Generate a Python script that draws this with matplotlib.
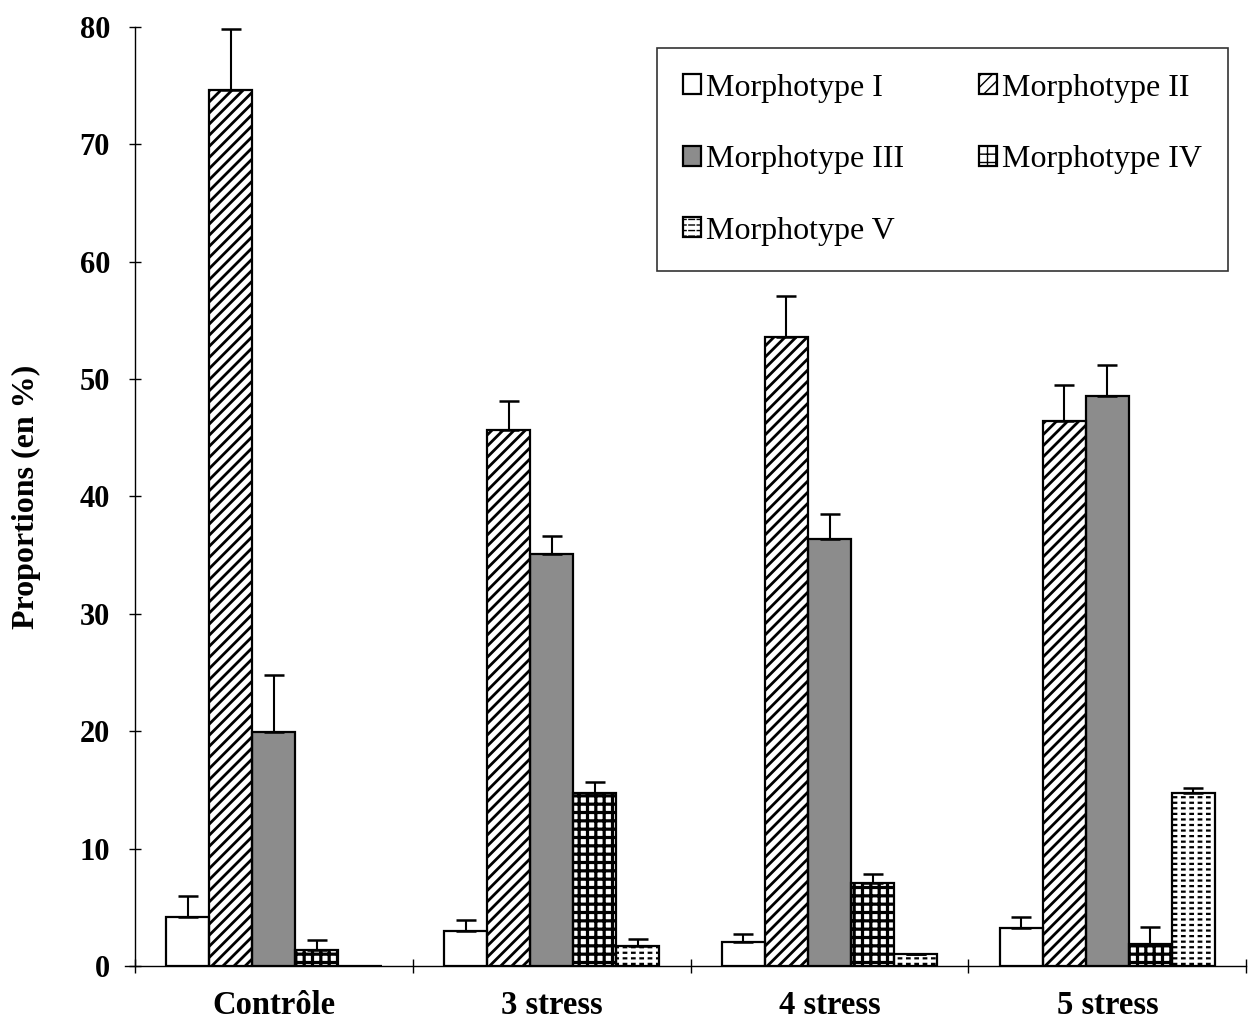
import matplotlib
matplotlib.use("Agg")
import matplotlib.pyplot as plt
import numpy as np

categories = ["Contrôle", "3 stress", "4 stress", "5 stress"]
series_names = ["Morphotype I", "Morphotype II", "Morphotype III", "Morphotype IV", "Morphotype V"]
morph_I = [4.2, 3.0, 2.0, 3.2]
morph_II = [74.6, 45.7, 53.6, 46.4]
morph_III = [19.9, 35.1, 36.4, 48.6]
morph_IV = [1.4, 14.7, 7.1, 1.9]
morph_V = [0.0, 1.7, 1.0, 14.7]
err_I = [1.8, 0.9, 0.7, 1.0]
err_II = [5.2, 2.4, 3.5, 3.1]
err_III = [4.9, 1.5, 2.1, 2.6]
err_IV = [0.8, 1.0, 0.7, 1.4]
err_V = [0.0, 0.6, 0.0, 0.5]
y_ticks = [0, 10, 20, 30, 40, 50, 60, 70, 80]

values = [morph_I, morph_II, morph_III, morph_IV, morph_V]
errors = [err_I, err_II, err_III, err_IV, err_V]

# layers per series: (facecolor, hatch, hatch colour, hatch linewidth)
layers = [
    [("white", None, "black", 1.0)],
    [("white", "///", "black", 2.0)],
    [("#8c8c8c", None, "black", 1.0)],
    [("white", "++", "black", 2.3)],
    [("white", "---", "black", 1.6), ("none", "||", "white", 2.6)],
]

plt.rcParams["font.family"] = ["Liberation Serif", "DejaVu Serif"]

fig = plt.figure(figsize=(12.5, 10.21), dpi=100)
ax = fig.add_axes([0.108, 0.0539, 0.889, 0.9197])

x = np.arange(len(categories))
bw = 0.155
offsets = (np.arange(5) - 2) * bw

handles = []
for i in range(5):
    parts = []
    for fc, hatch, hc, hlw in layers[i]:
        with plt.rc_context({"hatch.linewidth": hlw}):
            b = ax.bar(x + offsets[i], values[i], width=bw, facecolor=fc,
                       edgecolor=hc, linewidth=0, hatch=hatch, zorder=2)
        parts.append(b.patches[0])
    outline = ax.bar(x + offsets[i], values[i], width=bw, fill=False,
                     edgecolor="black", linewidth=1.6, zorder=2.5)
    parts.append(outline.patches[0])
    handles.append(tuple(parts))
    yerr = np.array([np.zeros(len(errors[i])), errors[i]])
    ax.errorbar(x + offsets[i], values[i], yerr=yerr, fmt="none", ecolor="black",
                elinewidth=1.5, capsize=7, capthick=1.8, zorder=3)

ax.set_xlim(-0.5, 3.5)
ax.set_ylim(0, 80)
ax.set_yticks(y_ticks)
ax.set_yticklabels([str(t) for t in y_ticks], fontsize=22, fontweight="bold")
ax.set_xticks(np.arange(-0.5, 4.0, 1.0))
ax.set_xticklabels([])
ax.set_xticks(x, minor=True)
ax.set_xticklabels(categories, minor=True, fontsize=23.5, fontweight="bold")
ax.tick_params(axis="x", which="major", direction="inout", length=10, width=1)
ax.tick_params(axis="x", which="minor", length=0, pad=17)
ax.tick_params(axis="y", direction="inout", length=8, width=1, pad=14)

for s in ["top", "right"]:
    ax.spines[s].set_visible(False)
for s in ["left", "bottom"]:
    ax.spines[s].set_linewidth(1.0)
ax.spines["bottom"].set_bounds(-0.536, 3.5)

ax.set_ylabel("Proportions (en %)", fontsize=23, fontweight="bold")
ax.yaxis.set_label_coords(-0.085, 0.5)

# row-major order in a 2-column legend
order = [0, 2, 4, 1, 3]
leg = ax.legend(handles=[handles[k] for k in order],
                labels=[series_names[k] for k in order], ncol=2,
                loc="upper right", bbox_to_anchor=(1228 / 1250, 1 - 48 / 1021),
                bbox_transform=fig.transFigure, borderaxespad=0,
                fontsize=23, frameon=True, fancybox=False, edgecolor="black",
                handlelength=0.57, handleheight=0.57, handletextpad=0.16,
                labelspacing=1.33, columnspacing=2.35, borderpad=0.8)
leg.get_frame().set_linewidth(1.2)

fig.savefig("out.png", dpi=100, facecolor="white")
